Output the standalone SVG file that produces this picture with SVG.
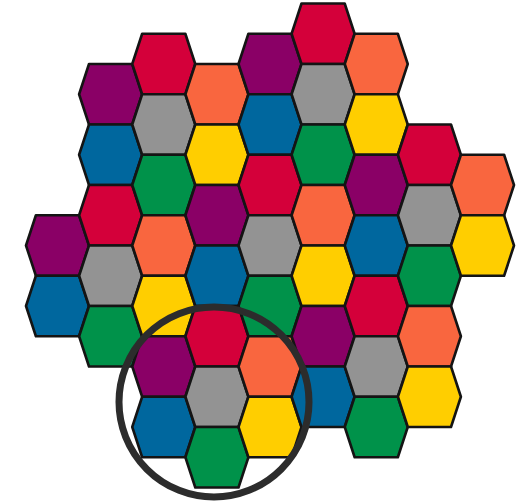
<svg xmlns="http://www.w3.org/2000/svg" xmlns:xlink="http://www.w3.org/1999/xlink" width="522" height="502" viewBox="0 0 522 502">
<style>
.h{stroke:#141414;stroke-width:2.6;stroke-linejoin:round}
.r{fill:#D4003A}.o{fill:#F9663F}.p{fill:#8A0066}.g{fill:#939393}.b{fill:#00679E}.y{fill:#FFCE00}.n{fill:#00924A}
</style>
<defs>
<polygon id="hex" points="-31.5,0 -21.6,-30.25 21.6,-30.25 31.5,0 21.6,30.25 -21.6,30.25"/>
</defs>
<rect width="522" height="502" fill="#ffffff"/>
<g id="hexes">
<g id="hA3"><use href="#hex" class="h p" transform="translate(57.5,245.5)"/></g>
<g id="hA4"><use href="#hex" class="h b" transform="translate(57.5,306)"/></g>

<g id="hB1"><use href="#hex" class="h p" transform="translate(110.6,94.25)"/></g>
<g id="hB2"><use href="#hex" class="h b" transform="translate(110.6,154.75)"/></g>
<g id="hB3"><use href="#hex" class="h r" transform="translate(110.6,215.25)"/></g>
<g id="hB4"><use href="#hex" class="h g" transform="translate(110.6,275.75)"/></g>
<g id="hB5"><use href="#hex" class="h n" transform="translate(110.6,336.25)"/></g>

<g id="hC0"><use href="#hex" class="h r" transform="translate(163.75,64)"/></g>
<g id="hC1"><use href="#hex" class="h g" transform="translate(163.75,124.5)"/></g>
<g id="hC2"><use href="#hex" class="h n" transform="translate(163.75,185)"/></g>
<g id="hC3"><use href="#hex" class="h o" transform="translate(163.75,245.5)"/></g>
<g id="hC4"><use href="#hex" class="h y" transform="translate(163.75,306)"/></g>
<g id="hC5"><use href="#hex" class="h p" transform="translate(163.75,366.5)"/></g>
<g id="hC6"><use href="#hex" class="h b" transform="translate(163.75,427)"/></g>

<g id="hD1"><use href="#hex" class="h o" transform="translate(216.9,94.25)"/></g>
<g id="hD2"><use href="#hex" class="h y" transform="translate(216.9,154.75)"/></g>
<g id="hD3"><use href="#hex" class="h p" transform="translate(216.9,215.25)"/></g>
<g id="hD4"><use href="#hex" class="h b" transform="translate(216.9,275.75)"/></g>
<g id="hD5"><use href="#hex" class="h r" transform="translate(216.9,336.25)"/></g>
<g id="hD6"><use href="#hex" class="h g" transform="translate(216.9,396.75)"/></g>
<g id="hD7"><use href="#hex" class="h n" transform="translate(216.9,457.25)"/></g>

<g id="hE0"><use href="#hex" class="h p" transform="translate(270,64)"/></g>
<g id="hE1"><use href="#hex" class="h b" transform="translate(270,124.5)"/></g>
<g id="hE2"><use href="#hex" class="h r" transform="translate(270,185)"/></g>
<g id="hE3"><use href="#hex" class="h g" transform="translate(270,245.5)"/></g>
<g id="hE4"><use href="#hex" class="h n" transform="translate(270,306)"/></g>
<g id="hE5"><use href="#hex" class="h o" transform="translate(270,366.5)"/></g>
<g id="hE6"><use href="#hex" class="h y" transform="translate(270,427)"/></g>

<g id="hF0"><use href="#hex" class="h r" transform="translate(323.1,33.75)"/></g>
<g id="hF1"><use href="#hex" class="h g" transform="translate(323.1,94.25)"/></g>
<g id="hF2"><use href="#hex" class="h n" transform="translate(323.1,154.75)"/></g>
<g id="hF3"><use href="#hex" class="h o" transform="translate(323.1,215.25)"/></g>
<g id="hF4"><use href="#hex" class="h y" transform="translate(323.1,275.75)"/></g>
<g id="hF5"><use href="#hex" class="h p" transform="translate(323.1,336.25)"/></g>
<g id="hF6"><use href="#hex" class="h b" transform="translate(323.1,396.75)"/></g>

<g id="hG0"><use href="#hex" class="h o" transform="translate(376.25,64)"/></g>
<g id="hG1"><use href="#hex" class="h y" transform="translate(376.25,124.5)"/></g>
<g id="hG2"><use href="#hex" class="h p" transform="translate(376.25,185)"/></g>
<g id="hG3"><use href="#hex" class="h b" transform="translate(376.25,245.5)"/></g>
<g id="hG4"><use href="#hex" class="h r" transform="translate(376.25,306)"/></g>
<g id="hG5"><use href="#hex" class="h g" transform="translate(376.25,366.5)"/></g>
<g id="hG6"><use href="#hex" class="h n" transform="translate(376.25,427)"/></g>

<g id="hH2"><use href="#hex" class="h r" transform="translate(429.4,154.75)"/></g>
<g id="hH3"><use href="#hex" class="h g" transform="translate(429.4,215.25)"/></g>
<g id="hH4"><use href="#hex" class="h n" transform="translate(429.4,275.75)"/></g>
<g id="hH5"><use href="#hex" class="h o" transform="translate(429.4,336.25)"/></g>
<g id="hH6"><use href="#hex" class="h y" transform="translate(429.4,396.75)"/></g>

<g id="hI2"><use href="#hex" class="h o" transform="translate(482.5,185)"/></g>
<g id="hI3"><use href="#hex" class="h y" transform="translate(482.5,245.5)"/></g>
</g>
<g id="highlight">
<circle cx="214" cy="402" r="95" fill="none" stroke="#2c2c2c" stroke-width="7"/>
</g>
</svg>
